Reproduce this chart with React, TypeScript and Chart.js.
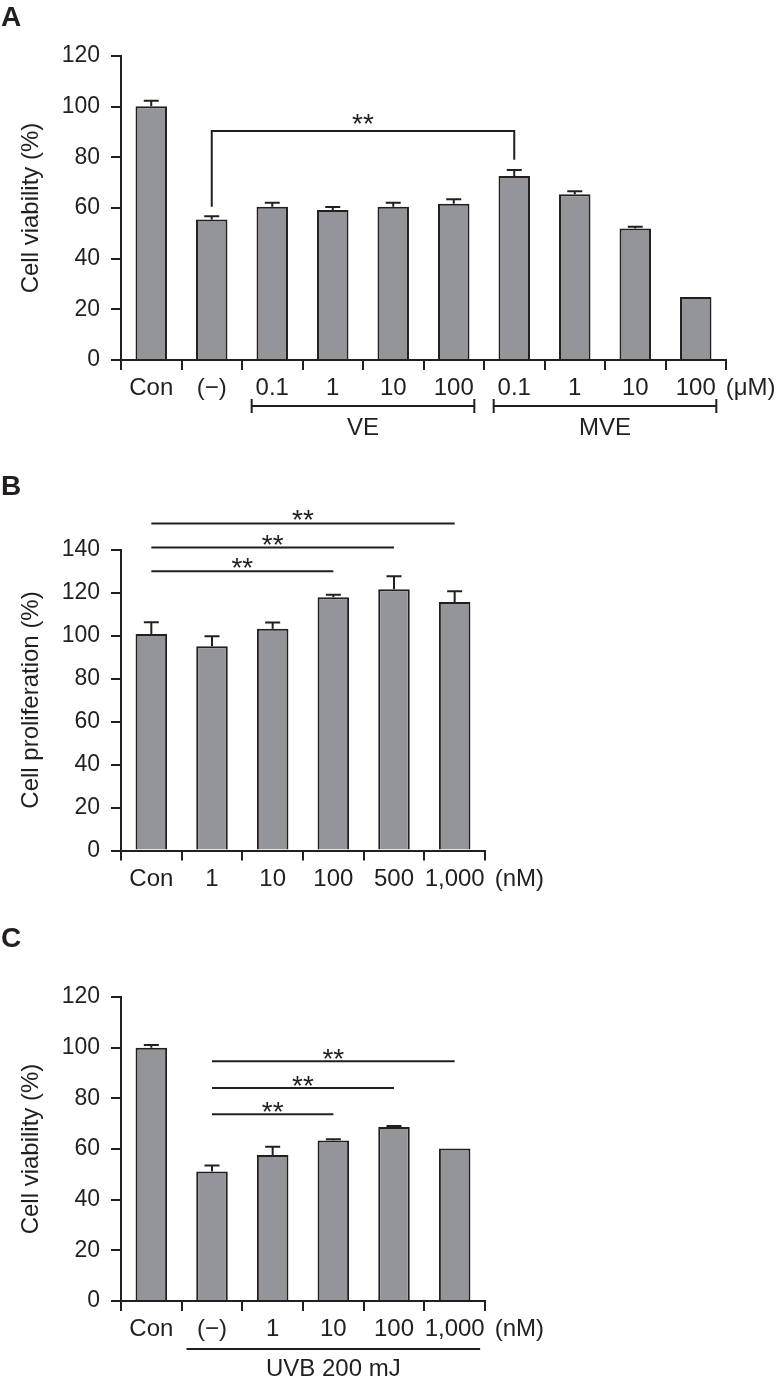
import React, { useEffect, useRef } from "react";
import { Chart, registerables } from "chart.js";

Chart.register(...registerables);

// ---------- data ----------
const labelsA = ["Con", "(−)", "0.1", "1", "10", "100", "0.1", "1", "10", "100"];
const valuesA = [100.2, 55.5, 60.5, 59.2, 60.5, 61.7, 72.6, 65.4, 51.9, 24.9];
const sdA = [2.1, 1.2, 1.6, 1.2, 1.6, 1.8, 2.4, 1.2, 0.7, 0];
const yTicksMaxA = 120;

const labelsB = ["Con", "1", "10", "100", "500", "1,000"];
const valuesB = [100.7, 95.0, 103.1, 117.8, 121.5, 115.6];
const sdB = [5.5, 4.7, 2.9, 1.1, 6.1, 5.0];
const yTicksMaxB = 140;

const labelsC = ["Con", "(−)", "1", "10", "100", "1,000"];
const valuesC = [100.0, 51.1, 57.6, 63.4, 68.7, 60.2];
const sdC = [1.1, 2.4, 3.3, 0.4, 0.4, 0];
const yTicksMaxC = 120;

// significance: [fromIndex, toIndex, lineValue, leftLegEnd, rightLegEnd]
const sigA: number[][] = [[1, 6, 90.4, 60.5, 79]];
const sigB: number[][] = [[0, 3, 129.9], [0, 4, 140.9], [0, 5, 152.1]];
const sigC: number[][] = [[1, 3, 73.7], [1, 4, 84.1], [1, 5, 94.6]];

// groups under axis: [label, fromIndex, toIndex]
const groupsA: [string, number, number][] = [["VE", 2, 5], ["MVE", 6, 9]];
const groupsC: [string, number, number][] = [["UVB 200 mJ", 1, 5]];

// ---------- style ----------
const FONT = "'Liberation Sans', Arial, Helvetica, sans-serif";
const INK = "#231f20";
const BAR = "#939598";
const W = 784;

type PanelProps = {
  top: number;
  height: number;
  area: { left: number; right: number; top: number; bottom: number };
  labels: string[];
  values: number[];
  sd: number[];
  yMax: number;
  yTitle: string;
  sigs: number[][];
  bracket: boolean;
  starGap: number;
  groups: [string, number, number][];
  groupCaps: boolean;
  groupExt: number;
  groupLineDy: number;
  groupTextDy: number;
  unit: string;
};

function BarPanel(p: PanelProps) {
  const ref = useRef<HTMLCanvasElement | null>(null);
  useEffect(() => {
    if (!ref.current) return;
    const extras = {
      id: "extras",
      afterDatasetsDraw(chart: any) {
        const ctx = chart.ctx;
        const xs = chart.scales.x;
        const ys = chart.scales.y;
        ctx.save();
        ctx.strokeStyle = INK;
        ctx.lineWidth = 2;
        p.values.forEach((v, i) => {
          const e = p.sd[i];
          if (!e) return;
          const x = xs.getPixelForValue(i);
          const y0 = ys.getPixelForValue(v);
          const y1 = ys.getPixelForValue(v + e);
          ctx.beginPath();
          ctx.moveTo(x, y0);
          ctx.lineTo(x, y1);
          ctx.moveTo(x - 7.5, y1);
          ctx.lineTo(x + 7.5, y1);
          ctx.stroke();
        });
        ctx.restore();
      },
      afterDraw(chart: any) {
        const ctx = chart.ctx;
        const xs = chart.scales.x;
        const ys = chart.scales.y;
        const ca = chart.chartArea;
        ctx.save();
        ctx.strokeStyle = INK;
        ctx.fillStyle = INK;
        ctx.lineWidth = 2;
        // significance lines
        p.sigs.forEach((s) => {
          const x1 = xs.getPixelForValue(s[0]);
          const x2 = xs.getPixelForValue(s[1]);
          const y = ys.getPixelForValue(s[2]);
          ctx.beginPath();
          if (p.bracket) {
            ctx.moveTo(x1, ys.getPixelForValue(s[3]));
            ctx.lineTo(x1, y);
            ctx.lineTo(x2, y);
            ctx.lineTo(x2, ys.getPixelForValue(s[4]));
          } else {
            ctx.moveTo(x1, y);
            ctx.lineTo(x2, y);
          }
          ctx.stroke();
          ctx.font = `28px ${FONT}`;
          ctx.textAlign = "center";
          ctx.textBaseline = "alphabetic";
          ctx.fillText("**", (x1 + x2) / 2, y - p.starGap + 16);
        });
        // groups
        p.groups.forEach(([label, a, b]) => {
          const x1 = xs.getPixelForValue(a - p.groupExt);
          const x2 = xs.getPixelForValue(b + p.groupExt);
          const y = ca.bottom + p.groupLineDy;
          ctx.beginPath();
          ctx.moveTo(x1, y);
          ctx.lineTo(x2, y);
          if (p.groupCaps) {
            ctx.moveTo(x1, y - 7);
            ctx.lineTo(x1, y + 7);
            ctx.moveTo(x2, y - 7);
            ctx.lineTo(x2, y + 7);
          }
          ctx.stroke();
          ctx.font = `24px ${FONT}`;
          ctx.textAlign = "center";
          ctx.textBaseline = "middle";
          ctx.fillText(label, (x1 + x2) / 2, ca.bottom + p.groupTextDy);
        });
        // unit label
        ctx.font = `24px ${FONT}`;
        const last = p.labels.length - 1;
        const lx = xs.getPixelForValue(last) + ctx.measureText(p.labels[last]).width / 2 + 10;
        ctx.textAlign = "left";
        ctx.textBaseline = "middle";
        ctx.fillText(p.unit, lx, ca.bottom + 28.4);
        ctx.restore();
      },
    };

    const chart = new Chart(ref.current, {
      type: "bar",
      data: {
        labels: p.labels,
        datasets: [
          {
            data: p.values,
            backgroundColor: BAR,
            borderColor: INK,
            borderWidth: 2,
            barPercentage: 0.52,
            categoryPercentage: 1,
          },
        ],
      },
      options: {
        animation: false,
        responsive: false,
        maintainAspectRatio: false,
        layout: { padding: { left: 0, top: p.area.top, right: W - p.area.right, bottom: 0 } },
        plugins: { legend: { display: false }, tooltip: { enabled: false } },
        scales: {
          x: {
            grid: {
              offset: true,
              drawOnChartArea: false,
              drawTicks: true,
              tickLength: 10,
              lineWidth: 2,
              color: INK,
            },
            border: { display: true, color: INK, width: 2 },
            ticks: {
              font: { family: FONT, size: 24 },
              color: INK,
              padding: 4,
              autoSkip: false,
              maxRotation: 0,
              minRotation: 0,
            },
            afterFit: (s: any) => {
              s.height = p.height - p.area.bottom;
            },
          },
          y: {
            min: 0,
            max: p.yMax,
            ticks: { stepSize: 20, font: { family: FONT, size: 23 }, color: INK, padding: 11 },
            grid: { drawOnChartArea: false, drawTicks: true, tickLength: 10, lineWidth: 2, color: INK },
            border: { display: true, color: INK, width: 2 },
            title: {
              display: true,
              text: p.yTitle,
              font: { family: FONT, size: 24 },
              color: INK,
              padding: { top: 16.6, bottom: 0 },
            },
            afterFit: (s: any) => {
              s.width = p.area.left;
            },
          },
        },
      },
      plugins: [extras],
    } as any);
    return () => chart.destroy();
  }, []);
  return (
    <canvas
      ref={ref}
      width={W}
      height={p.height}
      style={{ position: "absolute", left: 0, top: p.top, width: W, height: p.height, display: "block" }}
    />
  );
}

function Letter({ text, top }: { text: string; top: number }) {
  return (
    <div
      style={{
        position: "absolute",
        left: 1,
        top,
        fontFamily: FONT,
        fontWeight: "bold",
        fontSize: 28,
        lineHeight: "28px",
        color: INK,
      }}
    >
      {text}
    </div>
  );
}

export default function App() {
  return (
    <div style={{ position: "absolute", left: 0, top: 0, width: W, height: 1380, background: "#fff", overflow: "hidden" }}>
      <BarPanel
        top={0}
        height={460}
        area={{ left: 121, right: 726, top: 56, bottom: 360 }}
        labels={labelsA}
        values={valuesA}
        sd={sdA}
        yMax={yTicksMaxA}
        yTitle="Cell viability (%)"
        sigs={sigA}
        bracket={true}
        starGap={14}
        groups={groupsA}
        groupCaps={true}
        groupExt={0.34}
        groupLineDy={46}
        groupTextDy={68}
        unit="(μM)"
      />
      <BarPanel
        top={460}
        height={440}
        area={{ left: 121, right: 485, top: 89.5, bottom: 390.5 }}
        labels={labelsB}
        values={valuesB}
        sd={sdB}
        yMax={yTicksMaxB}
        yTitle="Cell proliferation (%)"
        sigs={sigB}
        bracket={false}
        starGap={10}
        groups={[]}
        groupCaps={false}
        groupExt={0}
        groupLineDy={0}
        groupTextDy={0}
        unit="(nM)"
      />
      <BarPanel
        top={900}
        height={480}
        area={{ left: 121, right: 485, top: 97, bottom: 401 }}
        labels={labelsC}
        values={valuesC}
        sd={sdC}
        yMax={yTicksMaxC}
        yTitle="Cell viability (%)"
        sigs={sigC}
        bracket={false}
        starGap={9}
        groups={groupsC}
        groupCaps={false}
        groupExt={0.42}
        groupLineDy={48}
        groupTextDy={68}
        unit="(nM)"
      />
      <Letter text="A" top={3} />
      <Letter text="B" top={472} />
      <Letter text="C" top={924} />
    </div>
  );
}
